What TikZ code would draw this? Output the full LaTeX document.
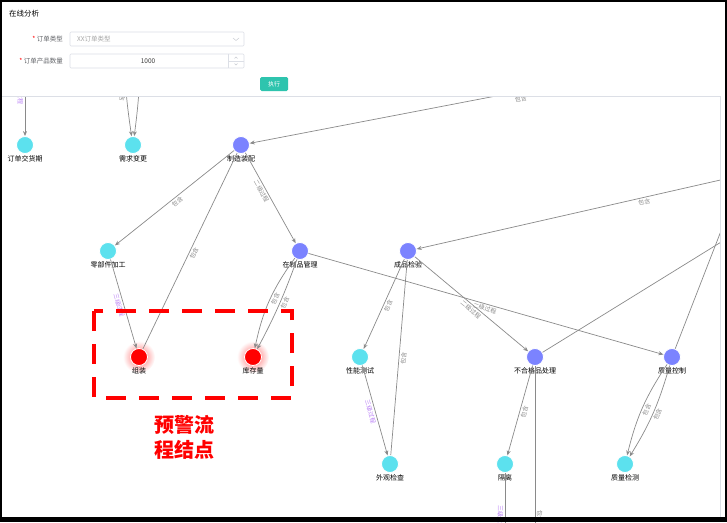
\documentclass[tikz,border=0pt]{standalone}
\usepackage{fontspec}
\setmainfont{Noto Sans CJK SC}
\usetikzlibrary{arrows.meta, backgrounds}

\definecolor{leafc}{HTML}{5CE1EE}
\definecolor{midc}{HTML}{7B83FF}
\definecolor{linec}{HTML}{8A8A8A}
\definecolor{tagc}{HTML}{B77CF5}
\definecolor{btnc}{HTML}{2EC4AE}
\definecolor{formc}{HTML}{606266}
\definecolor{boxc}{HTML}{DCDFE6}

\tikzset{
  leaf/.style={circle, fill=leafc, draw=white, line width=0.8pt, minimum size=17pt, inner sep=0pt},
  mid/.style={leaf, fill=midc},
  alarm/.style={leaf, fill=red},
  rel/.style={draw=linec, line width=0.7pt, -{Stealth[length=5pt, width=4pt]}},
  plain/.style={draw=linec, line width=0.7pt},
  tag/.style={font=\fontsize{6}{6}\selectfont, text=linec, sloped, inner sep=1.5pt},
  lvl/.style={tag, text=tagc},
  every label/.style={font=\fontsize{7}{7}\selectfont, inner sep=0.5pt},
  formtxt/.style={font=\fontsize{6.5}{6.5}\selectfont, text=formc, inner sep=0pt},
  inbox/.style={draw=boxc, line width=0.6pt, rounded corners=1pt}
}

\begin{document}
\begin{tikzpicture}[x=1pt, y=-1pt, label distance=1pt]
  \useasboundingbox (0,0) rectangle (727,522);

  % graph nodes
  \node[leaf, label=below:订单交货期] (jhq) at (25,145) {};
  \node[leaf, label=below:需求变更] (xqbg) at (133,145) {};
  \node[mid, label=below:制造装配] (zzzp) at (241,145) {};
  \node[leaf, label=below:零部件加工] (lbj) at (108,251) {};
  \node[mid, label=below:在制品管理] (zzp) at (300,251) {};
  \node[mid, label=below:成品检验] (cpjy) at (408,251) {};
  \node[alarm, label=below:组装] (zz) at (139,357) {};
  \node[alarm, label=below:库存量] (kcl) at (253,357) {};
  \node[leaf, label=below:性能测试] (xncs) at (360,357) {};
  \node[mid, label=below:不合格品处理] (bhg) at (535,357) {};
  \node[mid, label=below:质量控制] (zlkz) at (672,357) {};
  \node[leaf, label=below:外观检查] (wgjc) at (390,464) {};
  \node[leaf, label=below:隔离] (gl) at (505,464) {};
  \node[leaf, label=below:质量检测] (zljc) at (625,464) {};

  % glow of the alarm nodes
  \begin{scope}[on background layer]
    \foreach \n in {zz, kcl}
      \shade[inner color=red!60, outer color=white] (\n) circle (16pt);
  \end{scope}

  % ends outside the view
  \coordinate (t1) at (25,40);
  \coordinate (t2) at (124,40);
  \coordinate (t3) at (140,40);
  \coordinate (t4) at (600,76);
  \coordinate (r1) at (760,171);
  \coordinate (r2) at (760,218);
  \coordinate (r3) at (733,200);
  \coordinate (b1) at (535,545);
  \coordinate (b2) at (505,545);

  % connections
  \draw[rel] (t1) -- (jhq) node[lvl, pos=0.55, below] {三级过程};
  \draw[rel] (t2) to[bend right=4] node[tag, pos=0.58, below] {包含} (xqbg);
  \draw[rel] (t3) to[bend left=4] (xqbg);
  \draw[rel] (t4) -- (zzzp) node[tag, pos=0.23, below=3pt] {包含};
  \draw[rel] (zzzp) -- (lbj) node[tag, midway, below] {包含};
  \draw[rel] (zzzp) -- (zzp) node[tag, pos=0.4, below] {二级过程};
  \draw[plain] (zz) -- (zzzp) node[tag, midway, below] {包含};
  \draw[rel] (lbj) -- (zz) node[lvl, midway, below] {三级过程};
  \draw[rel] (zzp) to[bend right=12] node[tag, pos=0.45, below] {包含} (kcl);
  \draw[rel] (zzp) to[bend left=4] node[tag, pos=0.45, below] {包含} (kcl);
  \draw[rel] (zzp) -- (zlkz) node[tag, pos=0.5, below] {二级过程};
  \draw[rel] (r1) -- (cpjy) node[tag, pos=0.34, below] {包含};
  \draw[rel] (cpjy) -- (xncs) node[tag, midway, below] {包含};
  \draw[plain] (wgjc) -- (cpjy) node[tag, midway, below] {包含};
  \draw[rel] (xncs) -- (wgjc) node[lvl, midway, below] {三级过程};
  \draw[rel] (cpjy) -- (bhg) node[tag, pos=0.52, below] {二级过程};
  \draw[plain] (bhg) -- (r2);
  \draw[plain] (zlkz) -- (r3);
  \draw[rel] (bhg) -- (gl) node[tag, midway, below] {包含};
  \draw[plain] (bhg) -- (b1) node[tag, pos=0.84, above] {包含};
  \draw[plain] (gl) -- (b2) node[lvl, pos=0.62, below] {三级过程};
  \draw[rel] (zlkz) to[bend right=10] node[tag, pos=0.5, below] {包含} (zljc);
  \draw[rel] (zlkz) to[bend left=8] node[tag, pos=0.5, below] {包含} (zljc);

  % alarm box
  \draw[red, line width=4pt, dash pattern=on 20pt off 13pt] (94,311) rectangle (292,398);
  \node[text=red, font=\fontsize{20}{25}\selectfont\bfseries, align=center] (warn) at (184,437) {预警流\\程结点};

  % edges of the view
  \fill[white] (720.5,96) rectangle (727,522);
  \draw[boxc, line width=0.8pt] (720.5,96) -- (720.5,517);

  % dialog
  \fill[white] (0,0) rectangle (727,96);
  \draw[boxc, line width=0.8pt] (0,96.5) -- (720,96.5);
  \node[anchor=west, font=\fontsize{7.5}{7.5}\selectfont, inner sep=0pt] (title) at (9,14) {在线分析};
  \node[formtxt, anchor=east] (lbtype) at (63,39) {订单类型};
  \node[formtxt, text=red, anchor=east] (startype) at (lbtype.west) {*\,};
  \node[formtxt, anchor=east] (lbnum) at (63,61) {订单产品数量};
  \node[formtxt, text=red, anchor=east] (starnum) at (lbnum.west) {*\,};
  \draw[inbox] (70,32) rectangle (244,46);
  \node[formtxt, text=gray!70, anchor=west] (vtype) at (77,39) {XX订单类型};
  \draw[boxc!80!gray, line width=0.5pt] (233,38) -- (236,40.5) -- (239,38);
  \draw[inbox] (70,54) rectangle (244,68);
  \node[formtxt, text=black!75] (vnum) at (148,61) {1000};
  \draw[boxc, line width=0.5pt] (228,54) -- (228,68) (228,61) -- (244,61);
  \draw[boxc!80!gray, line width=0.4pt] (234.5,58.5) -- (236,57) -- (237.5,58.5)
    (234.5,63.5) -- (236,65) -- (237.5,63.5);
  \fill[btnc, rounded corners=1.5pt] (260,77) rectangle (288,91);
  \node[text=white, font=\fontsize{6}{6}\selectfont] (run) at (274,84) {执行};

  % frame
  \fill[black] (0,517) rectangle (727,522);
  \draw[black, line width=2pt] (1,1) rectangle (726,521);
\end{tikzpicture}
\end{document}
